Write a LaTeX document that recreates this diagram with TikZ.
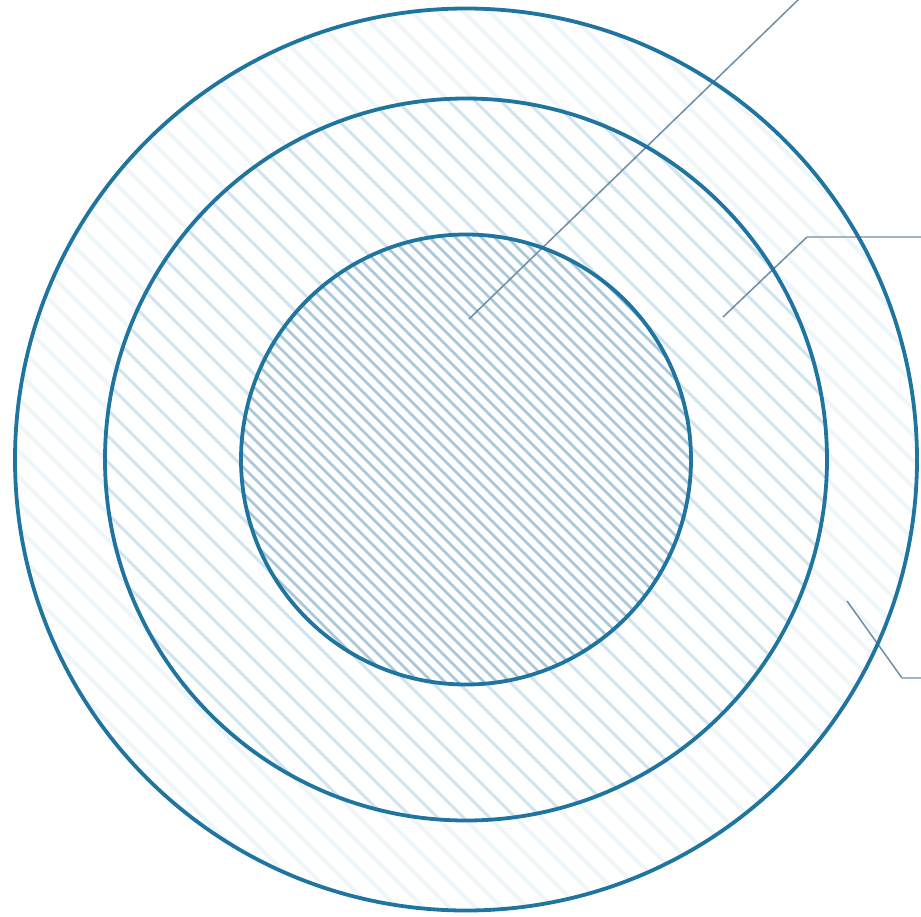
\documentclass[tikz,border=0pt]{standalone}
\usepackage{tikz}
\definecolor{ringblue}{HTML}{1F74A0}
\definecolor{leader}{HTML}{6C8EA6}
\definecolor{leadergrey}{HTML}{A3B3C2}
\definecolor{hatchout}{HTML}{EFF6F9}
\definecolor{hatchmid}{HTML}{D2E4ED}
\definecolor{hatchin}{HTML}{A8C8D9}
\tikzset{
  ring/.style={draw=ringblue, line width=3.8pt},
  leaderline/.style={draw=leader, line width=1.5pt},
}
\begin{document}
\begin{tikzpicture}[x=1pt,y=-1pt]
\useasboundingbox (0,0) rectangle (921,916);
\coordinate (C) at (466,459.5);
% hatching
\begin{scope}
  \clip (C) circle (451);
  \foreach \k in {-45,...,45} {
    \draw[hatchout, line width=4pt] ({10+26*\k},0) ++(-1000,-1000) -- ++(2000,2000);
  }
\end{scope}
\begin{scope}
  \clip (C) circle (361);
  \fill[white] (C) circle (361);
  \foreach \k in {-45,...,45} {
    \draw[hatchmid, line width=3pt] ({10+26*\k},0) ++(-1000,-1000) -- ++(2000,2000);
  }
\end{scope}
\begin{scope}
  \clip (C) circle (225);
  \fill[white] (C) circle (225);
  \foreach \k in {-90,...,90} {
    \draw[hatchin, line width=2.6pt] ({10+13*\k},0) ++(-1000,-1000) -- ++(2000,2000);
  }
\end{scope}
% leader coordinates
\coordinate (a1) at (469,319);
\coordinate (a2) at (800,-2);
\coordinate (b1) at (723,317);
\coordinate (b2) at (807,237);
\coordinate (b3) at (923,237);
\coordinate (c1) at (847,601);
\coordinate (c2) at (902,678);
\coordinate (c3) at (923,678);
\draw[leaderline] (a1) -- (a2);
\draw[leaderline] (b1) -- (b2);
\draw[leadergrey, line width=2pt] (b2) -- (b3);
\draw[leaderline] (c1) -- (c2);
\draw[leadergrey, line width=2pt] (c2) -- (c3);
% rings
\node[ring, circle, minimum size=902pt, inner sep=0pt] (outer) at (C) {};
\node[ring, circle, minimum size=722pt, inner sep=0pt] (middle) at (C) {};
\node[ring, circle, minimum size=450pt, inner sep=0pt] (inner) at (C) {};
\end{tikzpicture}
\end{document}
